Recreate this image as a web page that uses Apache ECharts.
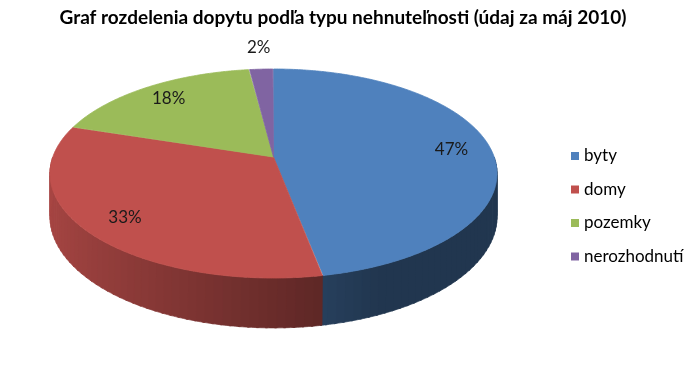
<!DOCTYPE html>
<html><head><meta charset="utf-8">
<script src="https://cdn.jsdelivr.net/npm/echarts@6/dist/echarts.min.js"></script>
<style>html,body{margin:0;padding:0;background:#fff}#c{width:700px;height:384px}</style>
</head><body><div id="c"></div>
<script>
var titleText = 'Graf rozdelenia dopytu podľa typu nehnuteľnosti (údaj za máj 2010)';
var categories = ['byty', 'domy', 'pozemky', 'nerozhodnutí'];
var values = [47, 33, 18, 2];
var colors = ['#4f81bd', '#c0504d', '#9bbb59', '#8064a2'];

var FONT = 'Lato, "Liberation Sans", sans-serif';
// 3D projection parameters
var P = { cx: 273.5, cy: 157, fx: 220.7, fy: 101.9, k: 0.158, t: 42 };
function proj(thDeg, r, drop) {
  var th = thDeg * Math.PI / 180;
  var u = r * Math.sin(th), v = -r * Math.cos(th);
  var w = 1 - P.k * v;
  return [P.cx + P.fx * u / w, P.cy + P.fy * v / w + drop * P.t / w];
}
function shade(hex, f) {
  var n = parseInt(hex.slice(1), 16);
  var r = (n >> 16) & 255, g = (n >> 8) & 255, b = n & 255;
  return 'rgb(' + Math.round(r * f) + ',' + Math.round(g * f) + ',' + Math.round(b * f) + ')';
}
var total = values.reduce(function (a, b) { return a + b; }, 0);
function startAngle(i) {
  var s = 0; for (var j = 0; j < i; j++) s += values[j];
  return s / total * 360;
}

function makeRender(idx) {
  return function (params, api) {
    var val = api.value(0);
    var a0 = startAngle(idx), a1 = a0 + val / total * 360;
    var children = [];
    // side wall (visible front half only: 90..270)
    var w0 = Math.max(a0, 90), w1 = Math.min(a1, 270);
    if (w1 > w0) {
      var wEnd = (a1 < 270) ? w1 + 0.5 : w1;
      var step = 2;
      for (var a = w0; a < w1; a += step) {
        var b = Math.min(a + step + 0.6, wEnd);
        var pts = [];
        for (var t = a; t <= b + 1e-6; t += 0.5) pts.push(proj(Math.min(t, b), 1, 0));
        for (var t2 = b; t2 >= a - 1e-6; t2 -= 0.5) pts.push(proj(Math.max(t2, a), 1, 1));
        var mid = (a + Math.min(a + step, w1)) / 2;
        var u = Math.sin(mid * Math.PI / 180);
        var f = Math.max(0.42, 0.55 - 0.32 * u);
        var col = shade(colors[idx], f);
        children.push({ type: 'polygon', shape: { points: pts }, style: { fill: col, stroke: col, lineWidth: 0.7 }, silent: true });
      }
    }
    // top face
    var top = [proj(0, 0, 0)];
    for (var t3 = a0; t3 <= a1 + 1e-6; t3 += 0.5) top.push(proj(Math.min(t3, a1), 1, 0));
    children.push({ type: 'polygon', shape: { points: top }, style: { fill: colors[idx], stroke: colors[idx], lineWidth: 0.8, lineJoin: 'round' }, z2: 5 });
    // label
    var pct = Math.round(val / total * 100) + '%';
    var m = (a0 + a1) / 2;
    var lp = val / total < 0.05 ? proj(m, 1.29, 0) : proj(m, 0.82, 0);
    children.push({ type: 'text', z2: 10, style: { text: pct, x: lp[0], y: lp[1], align: 'center', verticalAlign: 'middle', fill: '#1a1a1a', font: '17px ' + FONT } });
    return { type: 'group', children: children };
  };
}

var series = categories.map(function (name, i) {
  return {
    type: 'custom', name: name, coordinateSystem: 'none',
    itemStyle: { color: colors[i] },
    renderItem: makeRender(i),
    data: [[values[i]]]
  };
});

var chart = echarts.init(document.getElementById('c'), null, { renderer: 'canvas' });
chart.setOption({
  animation: false,
  backgroundColor: '#ffffff',
  title: {
    text: titleText, left: 338, top: 3, textAlign: 'center',
    textStyle: { fontFamily: FONT, fontWeight: 'bold', fontSize: 19, color: '#000' }
  },
  legend: {
    orient: 'vertical', left: 566, top: 142, icon: 'rect',
    itemWidth: 8, itemHeight: 8, itemGap: 15.5,
    data: categories,
    textStyle: { fontFamily: FONT, fontSize: 17, color: '#000', lineHeight: 18 }
  },
  series: series
});
</script></body></html>
